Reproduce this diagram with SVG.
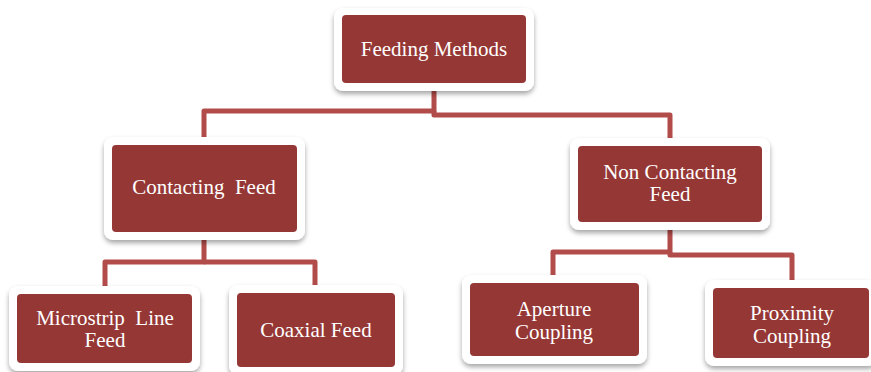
<svg xmlns="http://www.w3.org/2000/svg" width="871" height="372" viewBox="0 0 871 372">
<style>
.frame{fill:#ffffff;filter:url(#sh)}
.box{fill:#953735}
.lbl{font-family:'Liberation Serif','Times New Roman','DejaVu Serif',Times,serif;font-size:21px;fill:#ffffff;text-anchor:middle}
.conn{fill:none;stroke:#b24c4a;stroke-width:5;stroke-linejoin:round}
</style>
<defs>
<filter id="sh" x="-10%" y="-15%" width="120%" height="140%">
<feDropShadow dx="0" dy="3" stdDeviation="2.5" flood-color="#000" flood-opacity="0.35"/>
</filter>
</defs>
<rect width="871" height="372" fill="#ffffff"/>
<g id="connectors">
<path class="conn" d="M434,88 V111 H204 V140"/>
<path class="conn" d="M434,111 V115 H670 V142"/>
<path class="conn" d="M204,238 V262 H105 V287"/>
<path class="conn" d="M204,262 H315 V287"/>
<path class="conn" d="M670,228 V252 H553 V276"/>
<path class="conn" d="M670,252 V255 H792 V281"/>
</g>
<g id="feeding-methods">
<rect class="frame" x="334" y="8" width="200" height="83" rx="9"/>
<rect class="box" x="342" y="15" width="184" height="68" rx="4"/>
<text class="lbl" font-family="Liberation Serif, serif" x="434" y="56">Feeding Methods</text>
</g>
<g id="contacting-feed">
<rect class="frame" x="104" y="137" width="201" height="103" rx="9"/>
<rect class="box" x="112" y="145" width="185" height="87" rx="4"/>
<text class="lbl" font-family="Liberation Serif, serif" x="204" y="194" xml:space="preserve">Contacting  Feed</text>
</g>
<g id="non-contacting-feed">
<rect class="frame" x="570" y="138" width="200" height="92" rx="9"/>
<rect class="box" x="578" y="146" width="184" height="76" rx="4"/>
<text class="lbl" font-family="Liberation Serif, serif" x="670" y="179">Non Contacting</text>
<text class="lbl" font-family="Liberation Serif, serif" x="670" y="201">Feed</text>
</g>
<g id="microstrip-line-feed">
<rect class="frame" x="9" y="286" width="191" height="85" rx="9"/>
<rect class="box" x="17" y="294" width="175" height="69" rx="4"/>
<text class="lbl" font-family="Liberation Serif, serif" x="105" y="325" xml:space="preserve">Microstrip  Line</text>
<text class="lbl" font-family="Liberation Serif, serif" x="105" y="347">Feed</text>
</g>
<g id="coaxial-feed">
<rect class="frame" x="229" y="285" width="174" height="90" rx="9"/>
<rect class="box" x="237" y="293" width="158" height="74" rx="4"/>
<text class="lbl" font-family="Liberation Serif, serif" x="316" y="337">Coaxial Feed</text>
</g>
<g id="aperture-coupling">
<rect class="frame" x="462" y="275" width="185" height="89" rx="9"/>
<rect class="box" x="470" y="283" width="169" height="73" rx="4"/>
<text class="lbl" font-family="Liberation Serif, serif" x="554" y="316">Aperture</text>
<text class="lbl" font-family="Liberation Serif, serif" x="554" y="339">Coupling</text>
</g>
<g id="proximity-coupling">
<rect class="frame" x="705" y="280" width="172" height="86" rx="9"/>
<rect class="box" x="713" y="288" width="156" height="70" rx="4"/>
<text class="lbl" font-family="Liberation Serif, serif" x="792" y="320">Proximity</text>
<text class="lbl" font-family="Liberation Serif, serif" x="792" y="343">Coupling</text>
</g>
</svg>
